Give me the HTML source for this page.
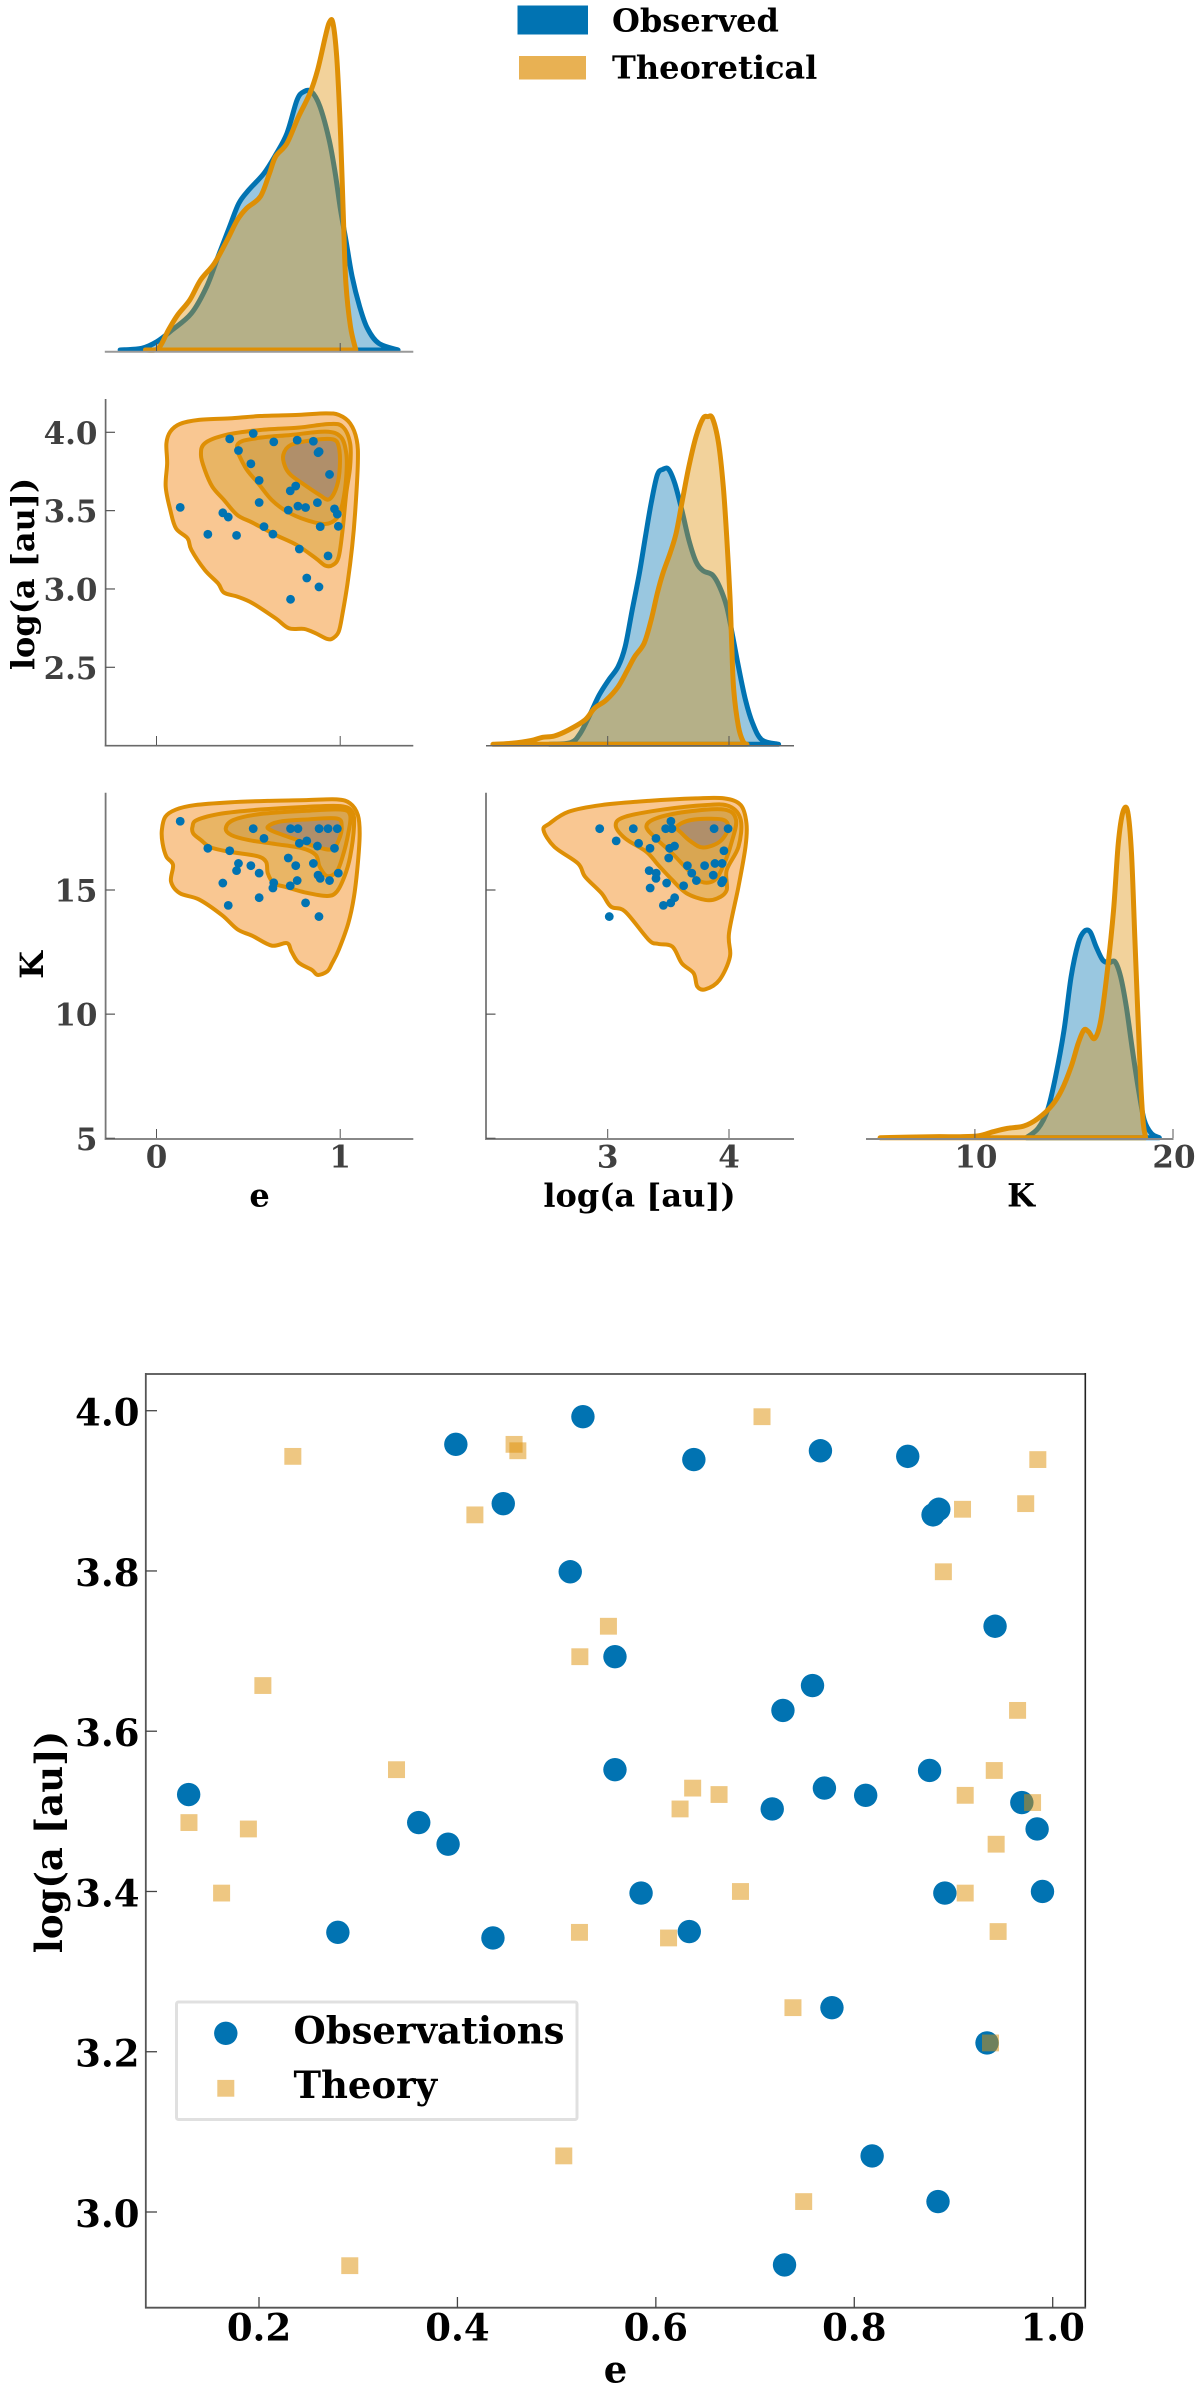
<!DOCTYPE html>
<html lang="en">
<head>
<meta charset="utf-8">
<title>Observed vs theoretical pair plot and scatter</title>
<style>
html,body{margin:0;padding:0;background:#fff;}
svg{display:block;}
text{font-family:"DejaVu Serif","Liberation Serif",serif;font-weight:bold;}
</style>
</head>
<body>
<svg id="figure" xmlns="http://www.w3.org/2000/svg" width="1200" height="2391" viewBox="0 0 1200 2391">
  <rect x="0" y="0" width="1200" height="2391" fill="#ffffff"/>
  <g id="corner"></g>
  <g id="bottom"></g>
  <g>
    <rect x="517.5" y="5.5" width="70.5" height="29" fill="#0173b2"/>
    <text x="612" y="31.5" font-size="32" fill="#000">Observed</text>
    <rect x="519" y="56" width="67" height="23.5" fill="#e8b153"/>
    <text x="612" y="78.5" font-size="32" fill="#000">Theoretical</text>
  </g>
</svg>
<script>
// ---- Observed and theoretical samples ----
const obsE = [0.5265,0.3984,0.4462,0.5137,0.1291,0.361,0.3906,0.6383,0.7659,0.8539,0.8852,0.8794,0.9419,0.5588,0.7579,0.7281,0.5588,0.8759,0.7699,0.8115,0.7173,0.9689,0.9843,0.2795,0.4358,0.5851,0.8913,0.9897,0.6337,0.7775,0.9338,0.818,0.8844,0.7297];
const obsA = [3.9925,3.958,3.884,3.799,3.521,3.486,3.459,3.939,3.95,3.943,3.877,3.87,3.731,3.693,3.657,3.626,3.552,3.551,3.529,3.52,3.503,3.511,3.478,3.349,3.342,3.398,3.398,3.4,3.35,3.255,3.211,3.07,3.013,2.934];
const obsK = [17.47,16.58,16.07,15.98,17.77,15.28,14.38,15.29,15.38,16.07,17.47,15.6,15.38,15.68,15.98,15.17,14.69,16.77,17.47,14.48,16.29,16.68,17.47,16.68,15.78,17.08,15.47,15.68,15.08,16.88,17.47,16.98,13.93,17.47];
const thE = [0.2341,0.4571,0.4609,0.4176,0.2039,0.3386,0.5234,0.1294,0.1893,0.707,0.985,0.9728,0.9091,0.8898,0.5522,0.9646,0.9411,0.6371,0.6637,0.6244,0.9118,0.9797,0.943,0.1623,0.523,0.5072,0.2915,0.6853,0.9118,0.945,0.6128,0.7382,0.9373,0.749];
const thA = [3.943,3.958,3.95,3.87,3.657,3.552,3.693,3.486,3.478,3.9925,3.939,3.884,3.877,3.799,3.731,3.626,3.551,3.529,3.521,3.503,3.52,3.511,3.459,3.398,3.349,3.07,2.933,3.4,3.398,3.35,3.342,3.255,3.211,3.013];

// ---- KDE curves on the diagonal ----
const kdeObsEx = [-0.198,-0.081,0.002,0.085,0.19,0.273,0.335,0.398,0.448,0.502,0.585,0.648,0.71,0.765,0.802,0.844,0.89,0.94,0.973,1.002,1.031,1.065,1.106,1.148,1.21,1.315];
const kdeObsEd = [0,0.005,0.025,0.06,0.11,0.19,0.28,0.37,0.44,0.48,0.53,0.585,0.65,0.75,0.775,0.775,0.73,0.63,0.53,0.42,0.33,0.22,0.13,0.065,0.02,0];
const kdeThEx = [-0.06,0.01,0.065,0.115,0.181,0.24,0.315,0.385,0.44,0.49,0.565,0.615,0.648,0.71,0.773,0.835,0.877,0.919,0.94,0.96,0.981,0.998,1.01,1.019,1.031,1.056,1.085];
const kdeThEd = [0,0.005,0.06,0.105,0.15,0.21,0.26,0.33,0.39,0.425,0.46,0.53,0.58,0.62,0.7,0.77,0.84,0.94,0.982,0.982,0.88,0.7,0.52,0.37,0.2,0.07,0];
const kdeObsAx = [2.521,2.696,2.774,2.852,2.93,3.008,3.086,3.144,3.202,3.261,3.311,3.358,3.409,3.455,3.502,3.553,3.611,3.669,3.728,3.786,3.864,3.922,3.981,4.031,4.078,4.136,4.195,4.272,4.409];
const kdeObsAd = [0,0.005,0.033,0.088,0.148,0.193,0.233,0.293,0.403,0.513,0.623,0.723,0.808,0.825,0.825,0.783,0.703,0.613,0.548,0.521,0.508,0.473,0.413,0.323,0.233,0.133,0.063,0.013,0];
const kdeThAx = [2.054,2.21,2.366,2.463,2.56,2.677,2.813,2.891,2.988,3.086,3.163,3.222,3.3,3.358,3.409,3.455,3.514,3.564,3.611,3.669,3.728,3.786,3.825,3.864,3.914,3.953,3.981,4.008,4.023,4.039,4.078,4.117,4.148];
const kdeThAd = [0,0.003,0.011,0.021,0.025,0.043,0.073,0.108,0.133,0.173,0.223,0.263,0.303,0.373,0.453,0.513,0.573,0.633,0.723,0.833,0.923,0.978,0.983,0.978,0.903,0.773,0.623,0.443,0.293,0.163,0.053,0.008,0];
const kdeObsKx = [12.595,13.19,13.667,14.071,14.5,14.857,15.214,15.5,15.81,16.119,16.452,16.762,17.071,17.357,17.643,17.952,18.262,18.548,18.905,19.31];
const kdeObsKd = [0,0.028,0.083,0.183,0.323,0.483,0.583,0.618,0.618,0.573,0.533,0.525,0.528,0.483,0.393,0.263,0.143,0.053,0.013,0];
const kdeThKx = [5.214,7.833,9.262,10.214,10.929,11.643,12.476,13.19,13.905,14.381,14.857,15.214,15.5,15.738,16.048,16.357,16.69,17,17.238,17.476,17.714,17.905,18.071,18.238,18.381,18.5,18.619];
const kdeThKd = [0,0.003,0.003,0.006,0.018,0.028,0.035,0.058,0.098,0.143,0.213,0.283,0.323,0.318,0.298,0.353,0.503,0.683,0.883,0.978,0.978,0.853,0.603,0.353,0.153,0.043,0];

// ---- Contours: e vs log(a) ----
const cAL1e = [0.054,0.075,0.127,0.231,0.398,0.565,0.773,0.919,0.992,1.054,1.09,1.096,1.081,1.065,1.04,1.013,0.992,0.96,0.929,0.867,0.804,0.721,0.648,0.523,0.44,0.367,0.335,0.263,0.19,0.169,0.106,0.075,0.05,0.058];
const cAL1a = [3.93,4.004,4.053,4.079,4.089,4.104,4.111,4.121,4.111,4.057,3.951,3.802,3.483,3.27,3.036,2.845,2.728,2.685,2.681,2.717,2.745,2.749,2.813,2.909,2.951,2.977,3.036,3.121,3.249,3.323,3.387,3.504,3.653,3.802];
const cAL2e = [0.242,0.263,0.377,0.565,0.773,0.94,1.013,1.054,1.054,1.033,1.013,0.992,0.96,0.919,0.867,0.763,0.648,0.523,0.44,0.367,0.304,0.263];
const cAL2a = [3.855,3.93,3.983,4.015,4.03,4.053,4.036,3.93,3.781,3.611,3.377,3.206,3.153,3.149,3.196,3.281,3.345,3.423,3.472,3.568,3.653,3.76];
const cAL3e = [0.44,0.544,0.731,0.919,1.002,1.033,1.033,1.013,0.981,0.919,0.815,0.71,0.627,0.554,0.481];
const cAL3a = [3.919,3.962,3.983,4.004,3.972,3.866,3.717,3.547,3.451,3.415,3.44,3.494,3.568,3.674,3.781];
const cAL4e = [0.69,0.731,0.856,0.96,0.992,0.998,0.981,0.94,0.888,0.794,0.731,0.7];
const cAL4a = [3.855,3.919,3.951,3.955,3.909,3.781,3.653,3.572,3.6,3.674,3.728,3.781];

// ---- Contours: e vs K ----
const cBL1e = [0.029,0.048,0.106,0.21,0.398,0.606,0.815,0.981,1.054,1.096,1.106,1.096,1.075,1.044,0.992,0.956,0.929,0.877,0.846,0.773,0.735,0.71,0.627,0.523,0.44,0.356,0.231,0.127,0.079,0.09,0.054,0.033];
const cBL1k = [17.41,17.95,18.24,18.42,18.53,18.59,18.62,18.65,18.49,18.02,17.28,16.07,14.73,13.66,12.59,12.05,11.72,11.58,11.78,12.08,12.52,12.86,12.76,13.15,13.42,13.99,14.62,14.87,15.34,16.01,16.34,16.88];
const cBL2e = [0.196,0.221,0.356,0.565,0.815,1.002,1.065,1.075,1.054,1.023,0.981,0.929,0.815,0.7,0.638,0.606,0.596,0.544,0.398,0.294,0.242,0.2];
const cBL2k = [17.55,17.82,18.08,18.24,18.35,18.38,18.15,17.55,16.34,15.54,14.93,14.76,14.89,15.13,15.27,15.67,16.14,16.37,16.54,16.72,17.01,17.28];
const cBL3e = [0.377,0.419,0.565,0.815,1.002,1.054,1.044,1.013,0.981,0.929,0.888,0.867,0.794,0.648,0.502,0.408];
const cBL3k = [17.48,17.82,18.06,18.19,18.24,18.02,17.28,16.34,15.74,15.56,15.94,16.41,16.68,16.85,17.01,17.21];
const cBL4e = [0.606,0.669,0.815,0.981,1.008,0.992,0.956,0.877,0.794,0.69,0.627];
const cBL4k = [17.55,17.75,17.84,17.88,17.55,17.01,16.64,16.72,16.94,17.21,17.39];

// ---- Contours: log(a) vs K ----
const cCL1a = [2.471,2.521,2.677,2.949,3.339,3.728,3.961,4.097,4.144,4.136,4.078,4.0,4.008,3.922,3.805,3.739,3.708,3.611,3.533,3.416,3.339,3.144,3.027,2.949,2.813,2.755,2.56];
const cCL1k = [17.41,17.68,18.15,18.42,18.59,18.69,18.69,18.42,17.68,16.74,15.13,13.26,12.32,11.38,11.0,11.11,11.65,12.05,12.72,12.83,12.99,14.13,14.33,14.87,15.54,16.07,16.74];
const cCL2a = [3.066,3.144,3.455,3.805,4.0,4.097,4.078,3.981,3.981,3.903,3.805,3.65,3.533,3.416,3.319,3.144];
const cCL2k = [17.61,17.95,18.24,18.42,18.38,17.82,16.74,15.8,15.0,14.66,14.6,14.87,15.4,16.01,16.54,17.08];
const cCL3a = [3.319,3.397,3.65,3.961,4.058,4.019,3.961,3.883,3.767,3.65,3.533,3.397];
const cCL3k = [17.55,17.88,18.15,18.24,17.82,16.88,16.07,15.4,15.34,15.87,16.47,17.08];
const cCL4a = [3.572,3.689,3.942,3.992,3.922,3.786,3.689,3.611];
const cCL4k = [17.55,17.82,17.84,17.48,16.94,16.71,16.94,17.28];

// ---- Tick labels ----
const cornerETicks = [0,1];
const cornerATicksY = [4.0,3.5,3.0,2.5];
const cornerAXTicks = [3,4];
const cornerKYTicks = [15,10,5];
const cornerKXTicks = [10,20];
const bottomXTicks = [0.2,0.4,0.6,0.8,1.0];
const bottomYTicks = [4.0,3.8,3.6,3.4,3.2,3.0];

// ---- Axis functions ----
function linear(d0,p0,d1,p1){ return function(v){ return p0+(v-d0)*(p1-p0)/(d1-d0); }; }
const xE = linear(0,156.5,1,340.2);
const xA = linear(3,607.7,4,729);
const xK = linear(10,974.9,20,1173);
const yA = linear(4,432.3,2.5,667.3);
const yK = linear(15,890,5,1138.3);
const yD1 = linear(0,350,1,16.7);
const yD2 = linear(0,744.3,1,411);
const yD3 = linear(0,1137.7,1,804.4);
const bx = linear(0.2,259,1.0,1052.7);
const by = linear(4.0,1410.7,3.0,2212);

const SVGNS = 'http://www.w3.org/2000/svg';
const BLUE = '#0173b2', ORANGE = '#de8f05';
const corner = document.getElementById('corner');
const bottom = document.getElementById('bottom');

function mk(parent,tag,name,attrs){
  const el = document.createElementNS(SVGNS,tag);
  
  
  for (const k in attrs) el.setAttribute(k, attrs[k]);
  parent.appendChild(el);
  return el;
}
function segment(parent,name,x1,y1,x2,y2,color,w){
  return mk(parent,'line',name,{x1:x1,y1:y1,x2:x2,y2:y2,stroke:color,'stroke-width':w});
}
function label(parent,name,x,y,txt,size,anchor,color,rot){
  const attrs = {x:x,y:y,'font-size':size,'text-anchor':anchor,fill:color};
  if (rot) attrs.transform = 'rotate(-90 '+x+' '+y+')';
  const t = mk(parent,'text',name,attrs);
  t.textContent = txt;
  return t;
}
function smoothOpen(pts){
  let d = 'M'+pts[0][0].toFixed(2)+' '+pts[0][1].toFixed(2);
  for (let i=0;i<pts.length-1;i++){
    const p0=pts[Math.max(i-1,0)],p1=pts[i],p2=pts[i+1],p3=pts[Math.min(i+2,pts.length-1)];
    const c1=[p1[0]+(p2[0]-p0[0])/6,p1[1]+(p2[1]-p0[1])/6];
    const c2=[p2[0]-(p3[0]-p1[0])/6,p2[1]-(p3[1]-p1[1])/6];
    d+='C'+c1[0].toFixed(2)+' '+c1[1].toFixed(2)+' '+c2[0].toFixed(2)+' '+c2[1].toFixed(2)+' '+p2[0].toFixed(2)+' '+p2[1].toFixed(2);
  }
  return d;
}
function smoothClosed(pts){
  const n=pts.length;
  let d='M'+pts[0][0].toFixed(2)+' '+pts[0][1].toFixed(2);
  for (let i=0;i<n;i++){
    const p0=pts[(i-1+n)%n],p1=pts[i],p2=pts[(i+1)%n],p3=pts[(i+2)%n];
    const c1=[p1[0]+(p2[0]-p0[0])/6,p1[1]+(p2[1]-p0[1])/6];
    const c2=[p2[0]-(p3[0]-p1[0])/6,p2[1]-(p3[1]-p1[1])/6];
    d+='C'+c1[0].toFixed(2)+' '+c1[1].toFixed(2)+' '+c2[0].toFixed(2)+' '+c2[1].toFixed(2)+' '+p2[0].toFixed(2)+' '+p2[1].toFixed(2);
  }
  return d+'Z';
}
function kde(name,xs,ds,sx,sy,color){
  const pts = xs.map(function(v,i){ return [sx(v),sy(ds[i])]; });
  const d = smoothOpen(pts)+'Z';
  mk(corner,'path',name+'-fill',{d:d,fill:color,'fill-opacity':0.4,stroke:'none'});
  mk(corner,'path',name+'-line',{d:d,fill:'none',stroke:color,'stroke-width':5,'stroke-linejoin':'round'});
}
const levelFills = ['#f9c792','#e9b565','#d9a652','#b08f6a'];
function contour(name,level,xs,ys,sx,sy){
  const pts = xs.map(function(v,i){ return [sx(v),sy(ys[i])]; });
  mk(corner,'path',name+'-level-'+(level+1),{d:smoothClosed(pts),fill:levelFills[level],stroke:ORANGE,'stroke-width':4,'stroke-linejoin':'round'});
}
function dots(name,xs,ys,sx,sy){
  xs.forEach(function(v,i){
    mk(corner,'circle',name,{cx:sx(v).toFixed(2),cy:sy(ys[i]).toFixed(2),r:4.4,fill:BLUE});
  });
}

// ---- Corner plot ----
const AX = '#6a6a6a', TXT = '#404040', TICK = '#555555';

// Diagonal e
kde('kde-observed-e',kdeObsEx,kdeObsEd,xE,yD1,BLUE);
kde('kde-theoretical-e',kdeThEx,kdeThEd,xE,yD1,ORANGE);
segment(corner,'e-kde-x-axis',104.8,351.7,413.3,351.7,'#999999',2);
cornerETicks.forEach(function(v){ segment(corner,'e-kde-x-tick',xE(v),343,xE(v),351,TICK,1); });

// e vs log(a)
contour('contour-e-loga',0,cAL1e,cAL1a,xE,yA);
contour('contour-e-loga',1,cAL2e,cAL2a,xE,yA);
contour('contour-e-loga',2,cAL3e,cAL3a,xE,yA);
contour('contour-e-loga',3,cAL4e,cAL4a,xE,yA);
dots('point-e-loga',obsE,obsA,xE,yA);
segment(corner,'loga-y-axis',105.6,399,105.6,746.5,AX,1.7);
segment(corner,'e-loga-x-axis',104.8,745.7,413.3,745.7,AX,1.7);
cornerATicksY.forEach(function(v){
  segment(corner,'loga-y-tick',105.6,yA(v),115,yA(v),TICK,1.2);
  label(corner,'loga-y-tick-label',97.5,yA(v)+11.5,v.toFixed(1),31,'end',TXT);
});
cornerETicks.forEach(function(v){ segment(corner,'e-loga-x-tick',xE(v),736,xE(v),745,TICK,1); });
label(corner,'loga-y-axis-title',34,574,'log(a [au])',32,'middle','#000',true);

// Diagonal log(a)
kde('kde-observed-loga',kdeObsAx,kdeObsAd,xA,yD2,BLUE);
kde('kde-theoretical-loga',kdeThAx,kdeThAd,xA,yD2,ORANGE);
segment(corner,'loga-kde-x-axis',486,745.7,794,745.7,'#666666',1.5);
cornerAXTicks.forEach(function(v){ segment(corner,'loga-kde-x-tick',xA(v),736,xA(v),745,TICK,1); });

// e vs K
contour('contour-e-k',0,cBL1e,cBL1k,xE,yK);
contour('contour-e-k',1,cBL2e,cBL2k,xE,yK);
contour('contour-e-k',2,cBL3e,cBL3k,xE,yK);
contour('contour-e-k',3,cBL4e,cBL4k,xE,yK);
dots('point-e-k',obsE,obsK,xE,yK);
segment(corner,'k-y-axis',105.6,792.7,105.6,1140,'#777777',1.8);
segment(corner,'e-x-axis',104.8,1139,413.3,1139,'#888888',2);
cornerKYTicks.forEach(function(v){
  segment(corner,'k-y-tick',105.6,yK(v),115,yK(v),TICK,1.2);
  label(corner,'k-y-tick-label',97.5,yK(v)+11.5,String(v),31,'end',TXT);
});
cornerETicks.forEach(function(v){
  segment(corner,'e-x-tick',xE(v),1129,xE(v),1138,TICK,1);
  label(corner,'e-x-tick-label',xE(v),1167.5,String(v),31,'middle',TXT);
});
label(corner,'k-y-axis-title',43,965,'K',32,'middle','#000',true);
label(corner,'e-x-axis-title',259.5,1206.5,'e',32,'middle','#000');

// log(a) vs K
contour('contour-loga-k',0,cCL1a,cCL1k,xA,yK);
contour('contour-loga-k',1,cCL2a,cCL2k,xA,yK);
contour('contour-loga-k',2,cCL3a,cCL3k,xA,yK);
contour('contour-loga-k',3,cCL4a,cCL4k,xA,yK);
dots('point-loga-k',obsA,obsK,xA,yK);
segment(corner,'loga-k-y-axis',486,792.7,486,1140,'#777777',1.8);
segment(corner,'loga-x-axis',485,1139,794,1139,'#888888',2);
cornerKYTicks.forEach(function(v){ segment(corner,'loga-k-y-tick',486,yK(v),495.5,yK(v),TICK,1.2); });
cornerAXTicks.forEach(function(v){
  segment(corner,'loga-x-tick',xA(v),1129,xA(v),1138,TICK,1);
  label(corner,'loga-x-tick-label',xA(v),1167.5,String(v),31,'middle',TXT);
});
label(corner,'loga-x-axis-title',639.5,1206.5,'log(a [au])',32,'middle','#000');

// Diagonal K
kde('kde-observed-k',kdeObsKx,kdeObsKd,xK,yD3,BLUE);
kde('kde-theoretical-k',kdeThKx,kdeThKd,xK,yD3,ORANGE);
segment(corner,'k-x-axis',866,1139,1173.5,1139,'#888888',2);
cornerKXTicks.forEach(function(v){
  segment(corner,'k-x-tick',xK(v),1129,xK(v),1138,TICK,1);
  label(corner,'k-x-tick-label',xK(v)+1,1167.5,String(v),31,'middle',TXT);
});
label(corner,'k-x-axis-title',1021,1206.5,'K',32,'middle','#000');

// ---- Bottom scatter ----
obsE.forEach(function(v,i){
  mk(bottom,'circle','observation-point',{cx:bx(v).toFixed(2),cy:by(obsA[i]).toFixed(2),r:11.7,fill:BLUE});
});
thE.forEach(function(v,i){
  mk(bottom,'rect','theory-point',{x:(bx(v)-8.5).toFixed(2),y:(by(thA[i])-8.4).toFixed(2),width:17,height:16.8,fill:ORANGE,'fill-opacity':0.5});
});
segment(bottom,'plot-top-spine',145,1374,1086,1374,'#666666',2);
segment(bottom,'plot-left-spine',145.8,1373,145.8,2308.5,'#555555',1.8);
segment(bottom,'plot-right-spine',1085.3,1373,1085.3,2308.5,'#222222',1.6);
segment(bottom,'plot-bottom-spine',145,2307.7,1086,2307.7,'#555555',1.8);
bottomYTicks.forEach(function(v){
  segment(bottom,'y-tick',145.8,by(v),157,by(v),'#444444',1.3);
  label(bottom,'y-tick-label',139.5,by(v)+15,v.toFixed(1),37,'end','#000');
});
bottomXTicks.forEach(function(v){
  segment(bottom,'x-tick',bx(v),2297,bx(v),2307.7,'#444444',1.3);
  label(bottom,'x-tick-label',bx(v),2340.5,v.toFixed(1),37,'middle','#000');
});
label(bottom,'y-axis-title',62,1842,'log(a [au])',37,'middle','#000',true);
label(bottom,'x-axis-title',615.5,2382.5,'e',37,'middle','#000');

// Scatter legend
mk(bottom,'rect','scatter-legend-box',{x:176.5,y:2002,width:400.5,height:117.5,rx:2,fill:'#ffffff','fill-opacity':0.85,stroke:'#e0e0e0','stroke-width':3});
mk(bottom,'circle','scatter-legend-marker-observations',{cx:225.8,cy:2033.3,r:11.7,fill:BLUE});
mk(bottom,'rect','scatter-legend-marker-theory',{x:217.3,y:2079.9,width:17,height:16.8,fill:ORANGE,'fill-opacity':0.5});
label(bottom,'scatter-legend-label-observations',293.5,2043.5,'Observations',37,'start','#000');
label(bottom,'scatter-legend-label-theory',293.5,2098,'Theory',37,'start','#000');
</script>
</body>
</html>
